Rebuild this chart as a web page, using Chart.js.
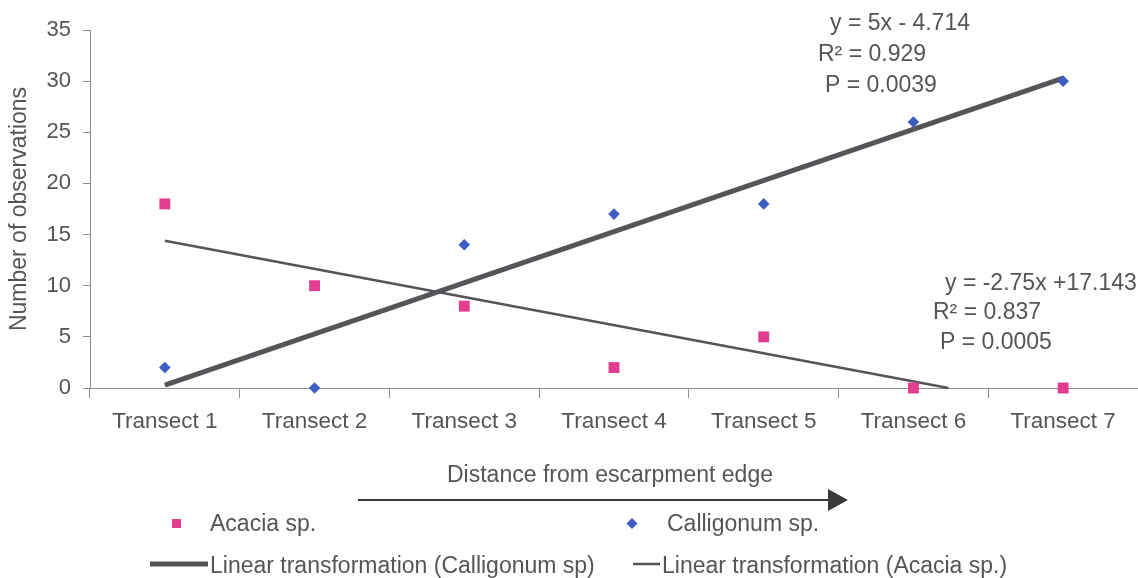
<!DOCTYPE html>
<html>
<head>
<meta charset="utf-8">
<script src="https://cdn.jsdelivr.net/npm/chart.js@4/dist/chart.umd.min.js"></script>
<style>
  html, body { margin: 0; padding: 0; background: #ffffff; }
  #wrap { width: 1138px; height: 578px; }
  canvas { display: block; }
</style>
</head>
<body>
<div id="wrap"><canvas id="chart" width="1138" height="578"></canvas></div>
<script>
// Survey counts per transect, ordered by distance from the escarpment edge
const categories = ['Transect 1', 'Transect 2', 'Transect 3', 'Transect 4', 'Transect 5', 'Transect 6', 'Transect 7'];
const acaciaCounts = [18, 10, 8, 2, 5, 0, 0];
const calligonumCounts = [2, 0, 14, 17, 18, 26, 30];

// Fitted linear trends (slope, intercept) with their reported statistics
const calligonumFit = [5, -4.714];
const acaciaFit = [-2.75, 17.143];
const calligonumStats = ['y = 5x - 4.714', 'R\u00B2 = 0.929', 'P = 0.0039'];
const acaciaStats = ['y = -2.75x +17.143', 'R\u00B2 = 0.837', 'P = 0.0005'];

const yMin = 0, yMax = 35, yStep = 5;

const PINK = '#e23d8e';
const BLUE = '#3c5ec2';
const LINE = '#545459';
const AXIS = '#8e8e8e';
const TEXT = '#555555';
const FONT = '"Liberation Sans", Arial, sans-serif';

// Trend segment across the transects, stopping where it meets the y = 0 floor
function trendPoints(fit) {
  const slope = fit[0], intercept = fit[1];
  let xEnd = categories.length;
  if (slope * xEnd + intercept < yMin) xEnd = (yMin - intercept) / slope;
  return [{ x: 1, y: slope * 1 + intercept }, { x: xEnd, y: slope * xEnd + intercept }];
}

// Notes, direction arrow and legend drawn around the plot
const overlay = {
  id: 'overlay',
  afterDraw(chart) {
    const c = chart.ctx;
    c.save();
    c.fillStyle = TEXT;
    c.textBaseline = 'alphabetic';
    c.textAlign = 'left';
    c.font = '23px ' + FONT;

    // regression notes
    const noteA = [[830, 30], [818, 61], [825, 92]];
    calligonumStats.forEach((t, i) => c.fillText(t, noteA[i][0], noteA[i][1]));
    const noteB = [[945, 290], [933, 319], [940, 349]];
    acaciaStats.forEach((t, i) => c.fillText(t, noteB[i][0], noteB[i][1]));

    // direction arrow
    c.textAlign = 'center';
    c.fillText('Distance from escarpment edge', 610, 482);
    c.strokeStyle = '#3a3a3a';
    c.lineWidth = 2;
    c.beginPath(); c.moveTo(358, 500); c.lineTo(830, 500); c.stroke();
    c.fillStyle = '#3a3a3a';
    c.beginPath(); c.moveTo(828, 489); c.lineTo(848, 500); c.lineTo(828, 511); c.closePath(); c.fill();

    // legend
    c.textAlign = 'left';
    const ds = chart.data.datasets;
    c.fillStyle = PINK;
    c.fillRect(172, 519, 9, 9);
    c.fillStyle = BLUE;
    c.beginPath(); c.moveTo(632, 518); c.lineTo(637.5, 523.5); c.lineTo(632, 529); c.lineTo(626.5, 523.5); c.closePath(); c.fill();
    c.strokeStyle = LINE;
    c.lineWidth = 5;
    c.beginPath(); c.moveTo(150, 564); c.lineTo(208, 564); c.stroke();
    c.lineWidth = 2.5;
    c.beginPath(); c.moveTo(633, 564); c.lineTo(660, 564); c.stroke();
    c.fillStyle = TEXT;
    c.fillText(ds[0].label, 210, 531);
    c.fillText(ds[1].label, 667, 531);
    c.fillText(ds[2].label, 210, 573);
    c.fillText(ds[3].label, 662, 573);
    c.restore();
  }
};

new Chart(document.getElementById('chart'), {
  type: 'line',
  data: {
    labels: categories,
    datasets: [
      {
        label: 'Acacia sp.',
        data: acaciaCounts,
        xAxisID: 'x',
        showLine: false,
        pointStyle: 'rect',
        pointRadius: 7.7,
        pointBackgroundColor: PINK,
        pointBorderWidth: 0,
        clip: false
      },
      {
        label: 'Calligonum sp.',
        data: calligonumCounts,
        xAxisID: 'x',
        showLine: false,
        pointStyle: 'rectRot',
        pointRadius: 5.8,
        pointBackgroundColor: BLUE,
        pointBorderWidth: 0,
        clip: false
      },
      {
        label: 'Linear transformation (Calligonum sp)',
        data: trendPoints(calligonumFit),
        xAxisID: 'xFit',
        borderColor: LINE,
        borderWidth: 5,
        pointRadius: 0,
        clip: false
      },
      {
        label: 'Linear transformation (Acacia sp.)',
        data: trendPoints(acaciaFit),
        xAxisID: 'xFit',
        borderColor: LINE,
        borderWidth: 2.5,
        pointRadius: 0,
        clip: false
      }
    ]
  },
  options: {
    responsive: false,
    animation: false,
    events: [],
    layout: { autoPadding: false, padding: { top: 30, right: 0, bottom: 0, left: 0 } },
    plugins: { legend: { display: false }, tooltip: { enabled: false } },
    scales: {
      x: {
        type: 'category',
        offset: true,
        grid: { offset: true, drawOnChartArea: false, tickLength: 10, color: AXIS },
        border: { color: AXIS },
        ticks: { color: TEXT, font: { family: FONT, size: 22.5 }, padding: 10, maxRotation: 0, autoSkip: false },
        afterFit(scale) {
          scale.height = 190;
          scale.paddingLeft = 0;
          scale.paddingRight = 0;
        }
      },
      xFit: {
        type: 'linear',
        display: false,
        min: 0.5,
        max: 7.5
      },
      y: {
        min: yMin,
        max: yMax,
        ticks: { stepSize: yStep, color: TEXT, font: { family: FONT, size: 22 }, padding: 12 },
        grid: { drawOnChartArea: false, tickLength: 7, color: AXIS },
        border: { color: AXIS },
        title: {
          display: true,
          text: 'Number of observations',
          color: TEXT,
          font: { family: FONT, size: 23 },
          padding: { top: 6, bottom: 0 }
        },
        afterFit(scale) { scale.width = 90; }
      }
    }
  },
  plugins: [overlay]
});
</script>
</body>
</html>
